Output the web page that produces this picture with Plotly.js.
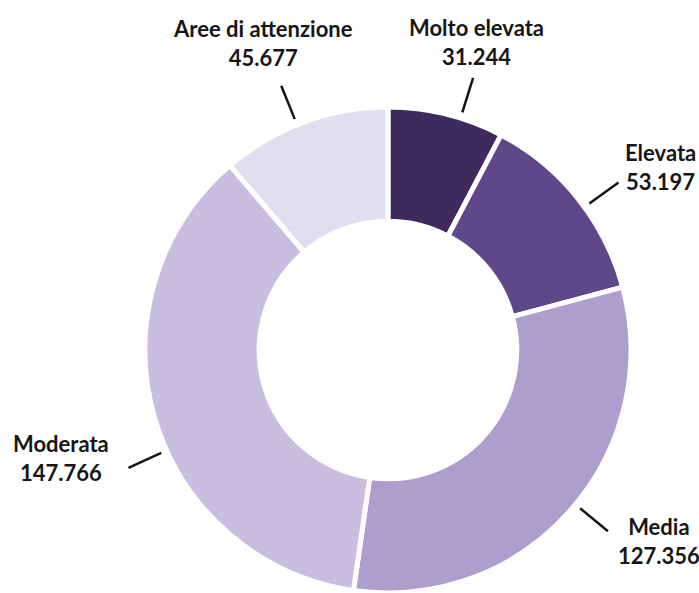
<!DOCTYPE html>
<html>
<head>
<meta charset="utf-8">
<script src="https://cdn.plot.ly/plotly-3.0.1.min.js"></script>
<style>html,body{margin:0;padding:0;background:#fff;}#chart{width:699px;height:593px;}</style>
</head>
<body>
<div id="chart"></div>
<script>
// ---- data ----
const labels = ['Molto elevata', 'Elevata', 'Media', 'Moderata', 'Aree di attenzione'];
const values = [31244, 53197, 127356, 147766, 45677];
const colors = ['#3e2a5d', '#5e488a', '#ad9fcd', '#c8bee0', '#e3deed'];

// ---- layout constants ----
const W = 699, H = 593;
const domX = [0.2074, 0.9027];
const domY = [0.0, 0.8196];
const leaderNudge = [3.5, 2.6, -2.1, -8.2, -1.7];          // degrees
const labelShift = [[3, 3], [-4, -7], [0, 0], [-7, -16], [-18, -4]]; // px
const fmt = v => String(v).replace(/\B(?=(\d{3})+(?!\d))/g, '.');

const cx = (domX[0] + domX[1]) / 2 * W;
const cyTop = H - (domY[0] + domY[1]) / 2 * H;
const R = Math.min((domX[1] - domX[0]) * W, (domY[1] - domY[0]) * H) / 2;

const total = values.reduce((a, b) => a + b, 0);
let cum = 0;
const shapes = [], annotations = [];
const toPaper = (px, py) => [px / W, 1 - py / H];

values.forEach((v, i) => {
  const mid = (cum + v / 2) / total * 360;
  cum += v;
  const th = (mid + leaderNudge[i]) * Math.PI / 180;
  const s = Math.sin(th), c = Math.cos(th);
  const r1 = R + 6, r2 = R + 42;
  const p1 = toPaper(cx + r1 * s, cyTop - r1 * c);
  const p2 = toPaper(cx + r2 * s, cyTop - r2 * c);
  shapes.push({type: 'line', xref: 'paper', yref: 'paper',
    x0: p1[0], y0: p1[1], x1: p2[0], y1: p2[1],
    line: {color: '#141414', width: 2.5}});
  let xanchor, yanchor, xshift = 0, yshift = 0;
  if (Math.abs(s) < 0.45) {
    xanchor = 'center';
    yanchor = c > 0 ? 'bottom' : 'top';
    yshift = c > 0 ? 9 : -9;
  } else {
    xanchor = s > 0 ? 'left' : 'right';
    yanchor = 'middle';
    xshift = s > 0 ? 8 : -10;
    yshift = c * 15;
  }
  xshift += labelShift[i][0];
  yshift -= labelShift[i][1];
  annotations.push({xref: 'paper', yref: 'paper', x: p2[0], y: p2[1],
    text: '<b>' + labels[i] + '</b><br><b>' + fmt(values[i]) + '</b>',
    showarrow: false, xanchor, yanchor, xshift, yshift, align: 'center',
    font: {family: 'Lato, "Open Sans", sans-serif', size: 22, color: '#161616'}});
});

const trace = {
  type: 'pie', labels: labels, values: values,
  sort: false, direction: 'clockwise', rotation: 0,
  hole: 0.53, textinfo: 'none', hoverinfo: 'label+value',
  marker: {colors: colors, line: {color: '#ffffff', width: 5}},
  domain: {x: domX, y: domY}
};

Plotly.newPlot('chart', [trace], {
  width: W, height: H, autosize: false,
  margin: {l: 0, r: 0, t: 0, b: 0, pad: 0},
  showlegend: false, paper_bgcolor: '#ffffff',
  shapes: shapes, annotations: annotations
}, {displayModeBar: false, staticPlot: true});
</script>
</body>
</html>
